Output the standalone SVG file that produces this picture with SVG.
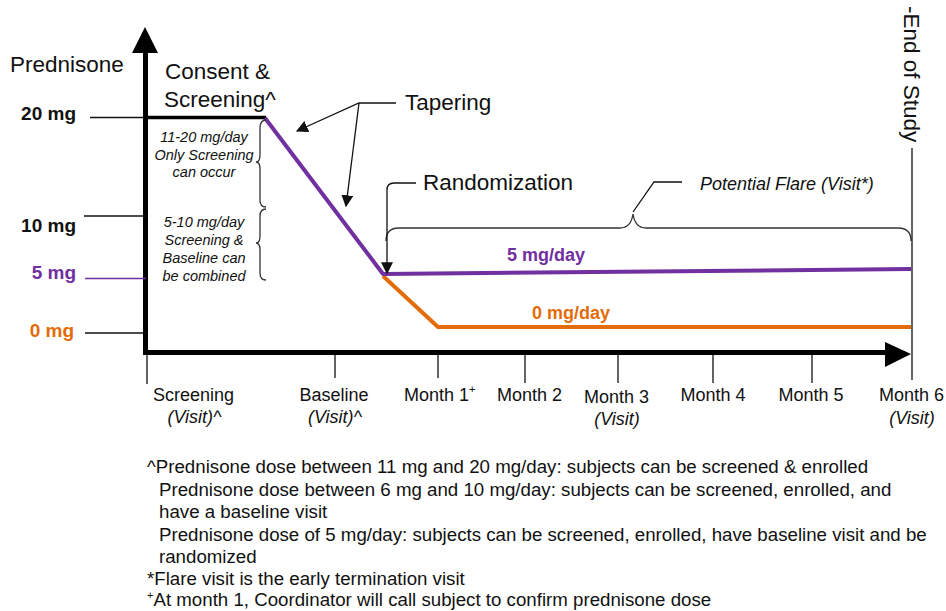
<svg xmlns="http://www.w3.org/2000/svg" width="946" height="611" viewBox="0 0 946 611">
  <style>
    text { font-family: "Liberation Sans", Arial, sans-serif; fill: #111; }
    .big { font-size: 22.5px; }
    .ylab { font-size: 19px; font-weight: bold; }
    .box { font-size: 14.5px; font-style: italic; text-anchor: middle; }
    .ax { font-size: 18px; }
    .axi { font-size: 18px; font-style: italic; }
    .note { font-size: 18.7px; }
    .dose { font-size: 18px; font-weight: bold; }
    .thin { stroke: #111; stroke-width: 1.3; fill: none; }
    .brace { stroke: #333; stroke-width: 1.3; fill: none; }
    .purple { fill: #7030A0; }
    .orange { fill: #E36C09; }
  </style>
  <defs>
    <marker id="arrBig" viewBox="0 0 10 10" refX="9" refY="5" markerWidth="12" markerHeight="12" markerUnits="userSpaceOnUse" orient="auto">
      <path d="M0,0 L10,5 L0,10 z" fill="#111"/>
    </marker>
  </defs>
  <rect width="946" height="611" fill="#fff"/>

  <!-- axes -->
  <g id="axes">
    <line x1="145.5" y1="355" x2="145.5" y2="50" stroke="#000" stroke-width="5"/>
    <polygon points="145,27 132,53 158,53" fill="#000"/>
    <line x1="143" y1="352.5" x2="888" y2="352.5" stroke="#000" stroke-width="5"/>
    <polygon points="911,354 885,342 885,367" fill="#000"/>
    <text class="big" x="10" y="72">Prednisone</text>
  </g>

  <!-- dose levels on the vertical axis -->
  <g id="dose-levels">
    <line x1="90" y1="117.5" x2="146" y2="117.5" stroke="#111" stroke-width="1.5"/>
    <line x1="143" y1="117.5" x2="266" y2="117.5" stroke="#000" stroke-width="3.5"/>
    <line x1="84" y1="216" x2="146" y2="216" stroke="#111" stroke-width="1.5"/>
    <line x1="85" y1="278.5" x2="146" y2="278.5" stroke="#7030A0" stroke-width="1.5"/>
    <line x1="85" y1="333" x2="146" y2="333" stroke="#111" stroke-width="1.5"/>
    <text class="ylab" x="76" y="120" text-anchor="end">20 mg</text>
    <text class="ylab" x="76" y="232" text-anchor="end">10 mg</text>
    <text class="ylab purple" x="76" y="279" text-anchor="end">5 mg</text>
    <text class="ylab orange" x="74" y="337" text-anchor="end">0 mg</text>
  </g>

  <!-- dose curves -->
  <g id="dose-curves" fill="none" stroke-linejoin="round">
    <polyline points="383,276 438,327 911,327" stroke="#E36C09" stroke-width="4"/>
    <polyline points="265,118 383,274 911,269" stroke="#7030A0" stroke-width="4"/>
    <text class="dose purple" x="507" y="261">5 mg/day</text>
    <text class="dose orange" x="532" y="319">0 mg/day</text>
  </g>

  <g id="consent-screening">
    <text class="big" x="165" y="79">Consent &amp;</text>
    <text class="big" x="164" y="107">Screening^</text>
  </g>

  <g id="screening-window">
    <text class="box" x="204" y="142">11-20 mg/day</text>
    <text class="box" x="204" y="160">Only Screening</text>
    <text class="box" x="204" y="177">can occur</text>
    <path class="brace" d="M266,120 Q260,120 260,128 L260,155 Q260,162 256,162 Q260,162 260,169 L260,200 Q260,207 266,207"/>
  </g>

  <g id="baseline-window">
    <text class="box" x="204" y="227">5-10 mg/day</text>
    <text class="box" x="204" y="245">Screening &amp;</text>
    <text class="box" x="204" y="263">Baseline can</text>
    <text class="box" x="204" y="281">be combined</text>
    <path class="brace" d="M266,209 Q260,209 260,216 L260,236 Q260,243 256,243 Q260,243 260,250 L260,273 Q260,280 266,280"/>
  </g>

  <g id="tapering">
    <text class="big" x="405" y="110">Tapering</text>
  </g>

  <g id="randomization">
    <text class="big" x="423" y="190">Randomization</text>
  </g>

  <g id="potential-flare">
    <path class="brace" d="M386,241 Q386,228 399,228 L620,228 Q631,228 633,214 Q635,228 646,228 L898,228 Q911,228 911,241"/>
    <text class="axi" x="700" y="190">Potential Flare (Visit*)</text>
  </g>

  <g id="end-of-study">
    <line x1="912" y1="148" x2="912" y2="380" stroke="#111" stroke-width="1.3"/>
    <text class="big" transform="translate(904,6) rotate(90)">-End of Study</text>
  </g>

  <!-- visit ticks and labels -->
  <g id="visits">
    <g class="thin">
      <line x1="147" y1="355" x2="147" y2="384"/>
      <line x1="335" y1="355" x2="335" y2="378"/>
      <line x1="438" y1="355" x2="438" y2="378"/>
      <line x1="525" y1="355" x2="525" y2="383"/>
      <line x1="618" y1="355" x2="618" y2="383"/>
      <line x1="713" y1="355" x2="713" y2="383"/>
      <line x1="812" y1="355" x2="812" y2="383"/>
    </g>
    <text class="ax" x="193.5" y="401" text-anchor="middle">Screening</text>
    <text class="axi" x="194.5" y="423" text-anchor="middle">(Visit)^</text>
    <text class="ax" x="334" y="401" text-anchor="middle">Baseline</text>
    <text class="axi" x="335" y="423" text-anchor="middle">(Visit)^</text>
    <text class="ax" x="404" y="401">Month 1<tspan font-size="11" dy="-8">+</tspan></text>
    <text class="ax" x="529.5" y="401" text-anchor="middle">Month 2</text>
    <text class="ax" x="616.5" y="403" text-anchor="middle">Month 3</text>
    <text class="axi" x="617" y="425" text-anchor="middle">(Visit)</text>
    <text class="ax" x="713" y="401" text-anchor="middle">Month 4</text>
    <text class="ax" x="811" y="401" text-anchor="middle">Month 5</text>
    <text class="ax" x="911.5" y="401" text-anchor="middle">Month 6</text>
    <text class="axi" x="912" y="424" text-anchor="middle">(Visit)</text>
  </g>

  <!-- leader arrows -->
  <g id="connectors" class="thin">
    <polyline points="396,103 359,103 297,131" marker-end="url(#arrBig)"/>
    <line x1="359" y1="103" x2="346" y2="206" marker-end="url(#arrBig)"/>
    <path d="M416,183 L394,183 Q387,183 387,190 L387,273" marker-end="url(#arrBig)"/>
    <polyline points="633,212 654,182 682,182"/>
  </g>

  <g id="footnotes">
    <text class="note" x="147" y="473">^Prednisone dose between 11 mg and 20 mg/day: subjects can be screened &amp; enrolled</text>
    <text class="note" x="159" y="495.5">Prednisone dose between 6 mg and 10 mg/day: subjects can be screened, enrolled, and</text>
    <text class="note" x="159" y="518">have a baseline visit</text>
    <text class="note" x="159" y="540.5">Prednisone dose of 5 mg/day: subjects can be screened, enrolled, have baseline visit and be</text>
    <text class="note" x="159" y="563">randomized</text>
    <text class="note" x="147" y="585">*Flare visit is the early termination visit</text>
    <text class="note" x="147" y="606"><tspan font-size="11" dy="-7">+</tspan><tspan dy="7">At month 1, Coordinator will call subject to confirm prednisone dose</tspan></text>
  </g>
</svg>
